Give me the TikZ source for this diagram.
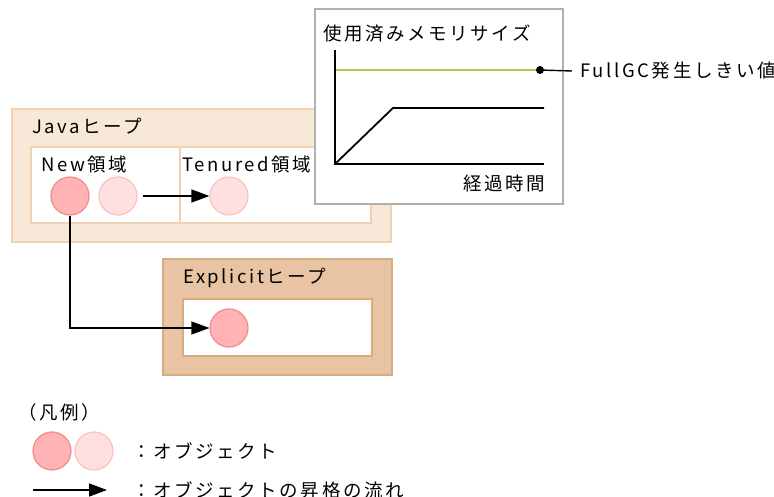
\documentclass[tikz,border=0pt]{standalone}
\usepackage{fontspec}
\setmainfont{Noto Sans CJK JP}[LetterSpace=14]
\usetikzlibrary{arrows.meta}
\definecolor{javafill}{HTML}{F8E8D8}
\definecolor{javaline}{HTML}{F0D2B4}
\definecolor{expfill}{HTML}{E8C4A4}
\definecolor{expline}{HTML}{D9AC80}
\definecolor{objdark}{HTML}{FFB3B5}
\definecolor{objdarkline}{HTML}{F08A8A}
\definecolor{objlight}{HTML}{FFE0E0}
\definecolor{objlightline}{HTML}{FFBFBF}
\definecolor{chartline}{HTML}{B0B0B0}
\definecolor{thresh}{HTML}{C0C050}
\tikzset{
  lbl/.style={inner sep=0pt, anchor=west, font=\fontsize{18.5}{20}\selectfont},
  objA/.style={circle, minimum size=38pt, inner sep=0pt, fill=objdark, draw=objdarkline, line width=1.2pt},
  objB/.style={circle, minimum size=38pt, inner sep=0pt, fill=objlight, draw=objlightline, line width=1.2pt},
  flow/.style={line width=1.4pt, -{Triangle[length=18pt,width=13pt]}},
  blk/.style={line width=1.8pt, black}
}
\begin{document}
\begin{tikzpicture}[x=1pt,y=-1pt]
\useasboundingbox (0,0) rectangle (774,497);
% Java heap
\draw[javaline, fill=javafill, line width=1.2pt] (12,109) rectangle (391,242);
\draw[javaline, fill=white, line width=1.2pt] (31,147) rectangle (371,223);
\draw[javaline, line width=1.2pt] (180,147) -- (180,223);
\node[lbl] (javat) at (32,126) {Javaヒープ};
\node[lbl] (newt) at (41,164) {New領域};
\node[lbl] (tent) at (182,164) {Tenured領域};
\node[objA] (o1) at (70,196) {};
\node[objB] (o2) at (118,196) {};
\node[objB] (o3) at (229,196) {};
\coordinate (a1) at (143,196);
\draw[flow] (a1) -- (o3.west);
% Explicit heap
\draw[expline, fill=expfill, line width=1.2pt] (163,259) rectangle (392,375);
\draw[expline, fill=white, line width=1.2pt] (183,299) rectangle (372,356);
\node[lbl] (expt) at (183,278) {Explicitヒープ};
\node[objA] (o4) at (229,328) {};
\draw[flow] (o1.south) |- (o4.west);
% Chart
\draw[chartline, fill=white, line width=1.2pt] (315,9) rectangle (563,204);
\node[lbl] (ct) at (323,33) {使用済みメモリサイズ};
\coordinate (org) at (335,164);
\coordinate (ytop) at (335,50);
\coordinate (xend) at (544,164);
\draw[blk] (ytop) -- (org) -- (xend);
\coordinate (th0) at (336,70);
\coordinate (dot) at (540,70);
\draw[thresh, line width=1.6pt] (th0) -- (dot);
\coordinate (k1) at (393,108);
\coordinate (k2) at (544,108);
\draw[blk] (org) -- (k1) -- (k2);
\node[lbl, anchor=east] (xt) at (545,183) {経過時間};
\fill (dot) circle (4pt);
\node[lbl] (fgc) at (580,71) {FullGC発生しきい値};
\draw[line width=1.4pt] (dot) -- (fgc.west -| 572,0);
% Legend
\node[lbl] (leg) at (18,412) {（凡例）};
\node[objA] (l1) at (52,451) {};
\node[objB] (l2) at (94,451) {};
\node[lbl] (lt1) at (132,451) {：オブジェクト};
\coordinate (la0) at (33,490);
\coordinate (la1) at (107,490);
\draw[flow] (la0) -- (la1);
\node[lbl] (lt2) at (132,490) {：オブジェクトの昇格の流れ};
\end{tikzpicture}
\end{document}
